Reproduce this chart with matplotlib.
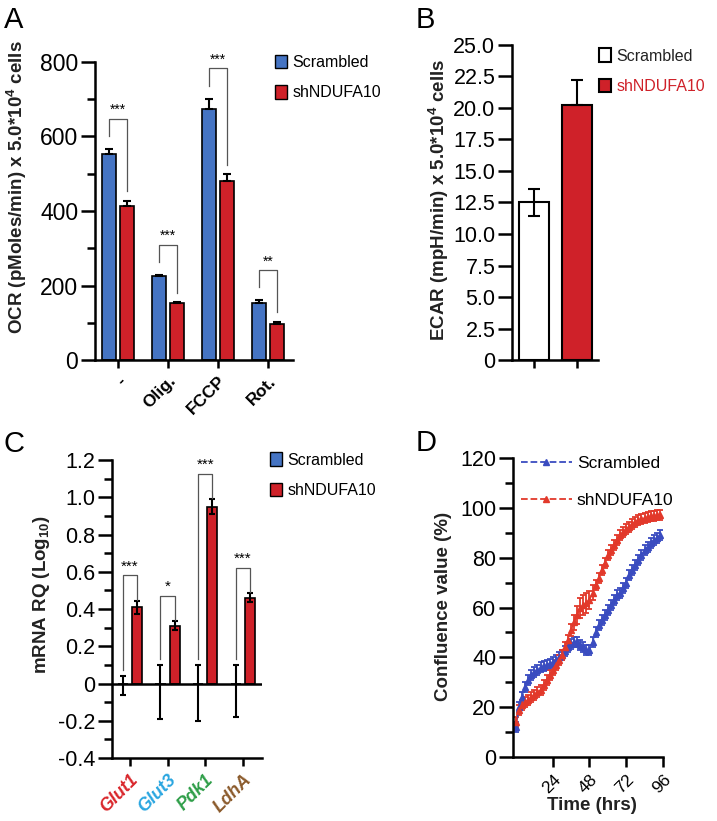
import matplotlib
matplotlib.use('Agg')
import matplotlib.pyplot as plt
from matplotlib.patches import Patch
from matplotlib.lines import Line2D
from matplotlib.ticker import MultipleLocator, FixedLocator
import numpy as np

plt.rcParams['font.family'] = ['Liberation Sans', 'DejaVu Sans']
plt.rcParams['mathtext.fontset'] = 'custom'
plt.rcParams['mathtext.rm'] = 'Liberation Sans'
plt.rcParams['mathtext.bf'] = 'Liberation Sans:bold'

# ---------------- data ----------------
a_categories = ['-', 'Olig.', 'FCCP', 'Rot.']
a_scrambled = [553, 225, 674, 152]
a_scrambled_err = [13, 3, 27, 8]
a_sh = [414, 152, 480, 98]
a_sh_err = [14, 3, 18, 4]
a_sig = ['***', '***', '***', '**']

b_groups = ['Scrambled', 'shNDUFA10']
b_values = [12.5, 20.2]
b_err_low = [1.1, 0.0]
b_err_high = [1.1, 2.0]

c_genes = ['Glut1', 'Glut3', 'Pdk1', 'LdhA']
c_gene_colors = ['#d9262b', '#2aa6e0', '#2e9e48', '#8b5a2b']
c_scrambled = [0.0, 0.0, 0.0, 0.0]
c_scrambled_err_low = [0.06, 0.19, 0.20, 0.18]
c_scrambled_err_high = [0.04, 0.10, 0.10, 0.10]
c_sh = [0.41, 0.31, 0.95, 0.46]
c_sh_err = [0.035, 0.025, 0.04, 0.025]
c_sig = ['***', '*', '***', '***']

d_time = [0, 2, 4, 6, 8, 10, 12, 14, 16, 18, 20, 22, 24, 26, 28, 30, 32, 34, 36, 38,
          40, 42, 44, 46, 48, 50, 52, 54, 56, 58, 60, 62, 64, 66, 68, 70, 72, 74, 76, 78,
          80, 82, 84, 86, 88, 90, 92, 94]
d_scrambled = [12, 20, 24, 28, 31, 33, 34, 35, 36, 36.5, 37, 37.5, 38, 39, 40, 41, 42.5, 44, 45.5, 46,
               46, 45, 44, 43, 43, 46, 50, 53, 55, 57, 59, 61, 63, 65, 66, 68, 70, 73, 75, 77,
               79, 81, 83, 84.5, 86, 87, 88, 89]
d_sh = [14, 19, 21, 22, 23, 24, 25, 26, 27, 29, 31, 33, 35, 37, 39, 41, 44, 47, 51, 54,
        57, 60, 61, 62, 63, 66, 69, 72, 75, 78, 81, 83, 85, 87, 89, 90.5, 91.5, 92.5, 93.5, 94.5,
        95, 95.5, 96, 96.3, 96.6, 96.8, 97, 97]
d_scrambled_err = 2.0
d_sh_err = [2.0] * 18 + [2.5, 3, 3.5, 4, 4, 4, 3.5, 3] + [2.0] * 22

# ---------------- style ----------------
BLUE = '#4574c3'
RED = '#cf2129'
LBLUE = '#3a4cc0'
LRED = '#e2392b'
SPW = 1.8
TICK_FS = 15.5
LAB_FS = 13.5

fig = plt.figure(figsize=(7.17, 8.21), dpi=100)


def style_axes(ax, fs=TICK_FS):
    for s in ['top', 'right']:
        ax.spines[s].set_visible(False)
    for s in ['left', 'bottom']:
        ax.spines[s].set_linewidth(SPW)
    ax.tick_params(axis='y', which='major', length=10, width=SPW, labelsize=fs, pad=2)
    ax.tick_params(axis='y', which='minor', length=6, width=SPW)
    ax.tick_params(axis='x', which='major', length=6, width=SPW)


def bracket(ax, x1, x2, y1, y2, ytop, text, dy, fs=10):
    ax.plot([x1, x1, x2, x2], [y1, ytop, ytop, y2], color='#555555', lw=0.9, zorder=5)
    ax.text((x1 + x2) / 2, ytop + dy, text, ha='center', va='bottom', fontsize=fs, zorder=5)


def square_legend(ax, handles, x, y, colors=None):
    leg = ax.legend(handles=handles, loc='upper left', bbox_to_anchor=(x, y),
                    bbox_transform=fig.transFigure, frameon=False, fontsize=11.5,
                    handlelength=0.8, handleheight=0.9, handletextpad=0.3,
                    labelspacing=0.95, borderaxespad=0, borderpad=0)
    if colors:
        for t, c in zip(leg.get_texts(), colors):
            t.set_color(c)
    return leg


# ---------------- Panel A ----------------
axA = fig.add_axes([0.1325, 0.5615, 0.276, 0.363])
style_axes(axA, fs=16.5)
xA = np.arange(len(a_categories))
off = 0.18
w = 0.28
axA.bar(xA - off, a_scrambled, w, yerr=[[0] * 4, a_scrambled_err], color=BLUE, edgecolor='black',
        linewidth=1.2, error_kw=dict(elinewidth=1.5, capsize=3, capthick=1.5))
axA.bar(xA + off, a_sh, w, yerr=[[0] * 4, a_sh_err], color=RED, edgecolor='black',
        linewidth=1.2, error_kw=dict(elinewidth=1.5, capsize=3, capthick=1.5))
for i in range(4):
    yl = a_scrambled[i] + a_scrambled_err[i] + 35
    yr = a_sh[i] + a_sh_err[i] + 26
    bracket(axA, xA[i] - off, xA[i] + off, yl, yr, max(yl, yr) + 47, a_sig[i], 4)
axA.set_xlim(-0.46, 3.5)
axA.set_ylim(0, 800)
axA.yaxis.set_major_locator(MultipleLocator(200))
axA.yaxis.set_minor_locator(MultipleLocator(100))
axA.set_xticks(xA)
axA.set_xticklabels(a_categories, rotation=45, ha='right', rotation_mode='anchor',
                    fontsize=12.5, fontweight='bold')
axA.set_ylabel(r'OCR (pMoles/min) x 5.0*10$^{\mathbf{4}}$ cells', fontsize=LAB_FS, fontweight='bold',
               color='#222222')
axA.yaxis.set_label_coords(-0.335, 0.58)
square_legend(axA, [Patch(facecolor=BLUE, edgecolor='black', label='Scrambled'),
                    Patch(facecolor=RED, edgecolor='black', label='shNDUFA10')], 0.383, 0.933)

# ---------------- Panel B ----------------
axB = fig.add_axes([0.714, 0.5615, 0.12, 0.3837])
style_axes(axB)
xB = np.arange(len(b_groups))
axB.bar(xB, b_values, 0.7, color=['white', RED], edgecolor='black', linewidth=1.5, zorder=2)
axB.errorbar(xB, b_values, yerr=[b_err_low, b_err_high], fmt='none', ecolor='black',
             elinewidth=1.5, capsize=4, capthick=1.5, zorder=3)
axB.set_xlim(-0.51, 1.49)
axB.set_ylim(0, 25)
axB.yaxis.set_major_locator(MultipleLocator(2.5))
axB.yaxis.set_major_formatter(matplotlib.ticker.FuncFormatter(lambda v, p: '0' if v == 0 else f'{v:.1f}'))
axB.set_xticks(xB)
axB.set_xticklabels(['', ''])
axB.set_ylabel(r'ECAR (mpH/min) x 5.0*10$^{\mathbf{4}}$ cells', fontsize=LAB_FS, fontweight='bold',
               color='#222222')
axB.yaxis.set_label_coords(-0.71, 0.508)
square_legend(axB, [Patch(facecolor='white', edgecolor='black', linewidth=1.5, label='Scrambled'),
                    Patch(facecolor=RED, edgecolor='black', linewidth=1.5, label='shNDUFA10')],
              0.835, 0.941, colors=['#222222', RED])

# ---------------- Panel C ----------------
axC = fig.add_axes([0.156, 0.0767, 0.209, 0.363])
style_axes(axC)
xC = np.arange(len(c_genes))
offC = 0.19
wC = 0.27
axC.bar(xC - offC, c_scrambled, wC, color=BLUE, edgecolor='black', linewidth=1.2)
axC.errorbar(xC - offC, c_scrambled, yerr=[c_scrambled_err_low, c_scrambled_err_high], fmt='none',
             ecolor='black', elinewidth=1.5, capsize=2.5, capthick=1.5)
axC.bar(xC + offC, c_sh, wC, yerr=c_sh_err, color=RED, edgecolor='black', linewidth=1.2,
        error_kw=dict(elinewidth=1.5, capsize=2.5, capthick=1.5))
axC.axhline(0, color='black', lw=SPW, zorder=4)
for i in range(4):
    yl = c_scrambled[i] + c_scrambled_err_high[i] + 0.03
    yr = c_sh[i] + c_sh_err[i] + 0.005
    bracket(axC, xC[i] - offC, xC[i] + offC, yl, yr, max(yl, yr) + 0.13, c_sig[i], 0.01, fs=11)
axC.set_xlim(-0.48, 3.5)
axC.set_ylim(-0.4, 1.2)
axC.yaxis.set_major_locator(MultipleLocator(0.2))
axC.yaxis.set_minor_locator(MultipleLocator(0.1))
axC.yaxis.set_major_formatter(matplotlib.ticker.FuncFormatter(
    lambda v, p: '0' if abs(v) < 1e-9 else f'{v:.1f}'))
axC.set_xticks(xC)
axC.set_xticklabels(c_genes, rotation=45, ha='right', rotation_mode='anchor',
                    fontsize=13, fontweight='bold', fontstyle='italic')
for t, c in zip(axC.get_xticklabels(), c_gene_colors):
    t.set_color(c)
axC.set_ylabel(r'mRNA RQ (Log$_{\mathbf{10}}$)', fontsize=LAB_FS, fontweight='bold', color='#222222')
axC.yaxis.set_label_coords(-0.40, 0.55)
square_legend(axC, [Patch(facecolor=BLUE, edgecolor='black', label='Scrambled'),
                    Patch(facecolor=RED, edgecolor='black', label='shNDUFA10')], 0.376, 0.449)

# ---------------- Panel D ----------------
axD = fig.add_axes([0.7155, 0.078, 0.209, 0.364])
style_axes(axD)
axD.errorbar(d_time, d_scrambled, yerr=d_scrambled_err, color=LBLUE, marker='^', markersize=5,
             linestyle='--', lw=1.0, elinewidth=1.3, capsize=2.5, capthick=1.3)
axD.errorbar(d_time, d_sh, yerr=d_sh_err, color=LRED, marker='^', markersize=5,
             linestyle='--', lw=1.0, elinewidth=1.3, capsize=2.5, capthick=1.3)
axD.set_xlim(-2, 96)
axD.set_ylim(0, 120)
axD.yaxis.set_major_locator(MultipleLocator(20))
axD.yaxis.set_minor_locator(MultipleLocator(10))
axD.xaxis.set_major_locator(FixedLocator([24, 48, 72, 96]))
axD.tick_params(axis='x', labelsize=12.5, length=7)
for t in axD.get_xticklabels():
    t.set_rotation(45)
    t.set_ha('right')
    t.set_rotation_mode('anchor')
axD.set_ylabel('Confluence value (%)', fontsize=LAB_FS, fontweight='bold', color='#222222')
axD.yaxis.set_label_coords(-0.405, 0.505)
axD.set_xlabel('Time (hrs)', fontsize=LAB_FS, fontweight='bold', color='#222222')
axD.xaxis.set_label_coords(0.53, -0.135)
axD.legend(handles=[Line2D([], [], color=LBLUE, ls='--', marker='^', markersize=5, lw=1.3,
                           label='Scrambled'),
                    Line2D([], [], color=LRED, ls='--', marker='^', markersize=5, lw=1.3,
                           label='shNDUFA10')],
           loc='upper left', bbox_to_anchor=(0.727, 0.445), bbox_transform=fig.transFigure,
           frameon=False, fontsize=12.5, handlelength=2.9, handletextpad=0.3,
           labelspacing=1.25, borderaxespad=0, borderpad=0)

# ---------------- panel letters ----------------
fig.text(0.005, 0.993, 'A', fontsize=21, va='top', ha='left')
fig.text(0.580, 0.993, 'B', fontsize=21, va='top', ha='left')
fig.text(0.005, 0.476, 'C', fontsize=21, va='top', ha='left')
fig.text(0.580, 0.477, 'D', fontsize=21, va='top', ha='left')

fig.savefig('out.png', dpi=100)
